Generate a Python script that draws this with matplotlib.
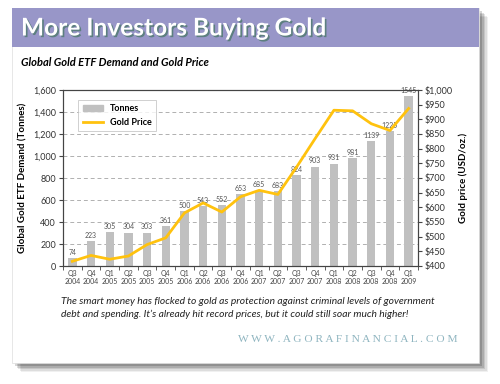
import matplotlib.pyplot as plt
import matplotlib.patches as mpatches
import matplotlib.patheffects as pe
from matplotlib.lines import Line2D
import numpy as np

plt.rcParams['font.family'] = ['Lato', 'DejaVu Sans']

# data
quarters = ['Q3', 'Q4', 'Q1', 'Q2', 'Q3', 'Q4', 'Q1', 'Q2', 'Q3', 'Q4',
            'Q1', 'Q2', 'Q3', 'Q4', 'Q1', 'Q2', 'Q3', 'Q4', 'Q1']
years = ['2004', '2004', '2005', '2005', '2005', '2005', '2006', '2006', '2006', '2006',
         '2007', '2007', '2007', '2007', '2008', '2008', '2008', '2008', '2009']
tonnes = [74, 223, 305, 304, 303, 361, 500, 543, 552, 653,
          685, 683, 824, 903, 931, 981, 1139, 1225, 1545]
gold_price = [416, 436, 423, 434, 473, 496, 581, 615, 584, 636,
              658, 644, 737, 835, 931, 929, 885, 862, 937]

W, H = 500, 384
fig = plt.figure(figsize=(5, 3.84), dpi=100)
fig.patch.set_facecolor('white')

def fx(x):
    return x / W

def fy(y):
    return 1 - y / H

# drop shadow of the card
for i, a in enumerate([0.06, 0.08, 0.1, 0.13, 0.16]):
    off = 9 - i * 1.5
    fig.patches.append(mpatches.Rectangle((fx(12 + off), fy(363 + off)), fx(467), 355 / H,
                                          transform=fig.transFigure, facecolor='black',
                                          edgecolor='none', alpha=a, zorder=0))
# card
fig.patches.append(mpatches.Rectangle((fx(12), fy(363)), fx(467), 355 / H,
                                      transform=fig.transFigure, facecolor='white',
                                      edgecolor='#dddddd', lw=0.5, zorder=1))
# header band
fig.patches.append(mpatches.Rectangle((fx(12), fy(47)), fx(467), 39 / H,
                                      transform=fig.transFigure, facecolor='#9896c8',
                                      edgecolor='none', zorder=2))

fig.text(fx(21), fy(28), 'More Investors Buying Gold', color='white', fontsize=17.6,
         fontweight='bold', va='center', ha='left', zorder=3,
         path_effects=[pe.withSimplePatchShadow(offset=(1.2, -1.2), shadow_rgbFace='#5d7f80', alpha=1)])
fig.text(fx(21), fy(63), 'Global Gold ETF Demand and Gold Price', fontsize=8,
         fontweight='bold', style='italic', va='center', ha='left', zorder=3)

ax = fig.add_axes([fx(63), fy(266), fx(355), 176 / H], zorder=4)
x = np.arange(len(tonnes))
ax.bar(x, tonnes, width=0.45, color='#c0c0c0', zorder=2)
for xi, v in zip(x, tonnes):
    ax.text(xi, v + 20, str(v), ha='center', va='bottom', fontsize=5, color='#555555')

ax.set_xlim(-0.5, len(tonnes) - 0.5)
ax.set_ylim(0, 1600)
ax.set_yticks(range(0, 1601, 200))
ax.set_yticklabels([f'{v:,}' for v in range(0, 1601, 200)], fontsize=6.5, color='#333333')
ax.set_xticks(x)
ax.set_xticklabels([f'{q}\n{y}' for q, y in zip(quarters, years)], fontsize=5, color='#444444')
ax.set_xticks(np.arange(-0.5, len(tonnes)), minor=True)
ax.tick_params(axis='x', which='major', length=0, pad=3)
ax.tick_params(axis='x', which='minor', length=3, color='#444444')
ax.tick_params(axis='y', length=3, color='#444444', pad=2)
for yv in range(200, 1600, 200):
    ax.axhline(yv, color='#b0b0b0', lw=0.7, ls=(0, (4, 3)), zorder=1)
for s in ax.spines.values():
    s.set_color('#444444')
    s.set_linewidth(0.8)
ax.set_ylabel('Global Gold ETF Demand (Tonnes)', fontsize=7, fontweight='bold', labelpad=4)

ax2 = ax.twinx()
ax2.plot(x, gold_price, color='#ffc20e', lw=2, zorder=3)
ax2.set_ylim(400, 1000)
ax2.set_yticks(range(400, 1001, 50))
ax2.set_yticklabels([f'${v:,}' for v in range(400, 1001, 50)], fontsize=6.5, color='#333333')
ax2.tick_params(axis='y', length=3, color='#444444', pad=2)
for s in ax2.spines.values():
    s.set_color('#444444')
    s.set_linewidth(0.8)
ax2.set_ylabel('Gold price (USD/oz.)', fontsize=7, fontweight='bold', labelpad=4)

handles = [mpatches.Patch(color='#c0c0c0'), Line2D([], [], color='#ffc20e', lw=2)]
leg = ax2.legend(handles, ['Tonnes', 'Gold Price'], loc='upper left',
                 bbox_to_anchor=(0.03, 0.97), frameon=True,
                 fancybox=False, edgecolor='#bbbbbb', handlelength=2.2,
                 borderpad=0.5, labelspacing=0.5, prop={'weight': 'bold', 'size': 6.5})
leg.get_frame().set_linewidth(0.6)

fig.text(fx(61), fy(301), 'The smart money has flocked to gold as protection against criminal levels of government',
         fontsize=7.35, style='italic', color='#222222', va='center', ha='left', zorder=3)
fig.text(fx(61), fy(314), 'debt and spending. It\u2019s already hit record prices, but it could still soar much higher!',
         fontsize=7.35, style='italic', color='#222222', va='center', ha='left', zorder=3)
fig.text(fx(458), fy(340), 'W W W . A G O R A F I N A N C I A L . C O M', fontsize=8.2, color='#8fb5c0',
         family=['Liberation Serif', 'DejaVu Serif'], va='center', ha='right', zorder=3)

fig.savefig('out.png', dpi=100)
